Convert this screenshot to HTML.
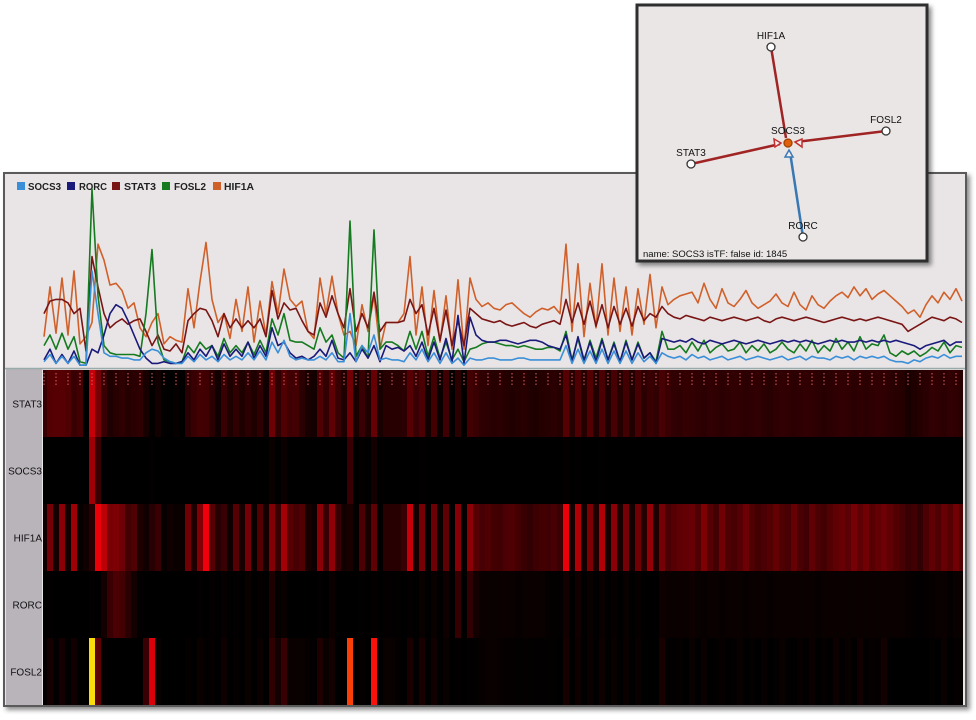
<!DOCTYPE html>
<html><head><meta charset="utf-8">
<style>
body{margin:0;width:976px;height:720px;background:#fff;overflow:hidden;font-family:"Liberation Sans",sans-serif;}
svg{display:block}
</style></head>
<body>
<svg id="root" width="976" height="720" xmlns="http://www.w3.org/2000/svg">
<defs>
<filter id="sh" x="-5%" y="-5%" width="115%" height="115%"><feDropShadow dx="3" dy="3" stdDeviation="2.5" flood-color="#000" flood-opacity="0.45"/></filter>
<clipPath id="heatclip"><rect x="43" y="370" width="920" height="335"/></clipPath>
</defs>
<rect x="4" y="173" width="962" height="533" fill="#e9e5e6" stroke="#5a5a5a" stroke-width="2" filter="url(#sh)"/>
<rect x="6" y="369" width="36" height="336" fill="#b9b4ba"/>
<line x1="5" y1="368.5" x2="965" y2="368.5" stroke="#9aa" stroke-width="1.5"/>
<g id="legend" font-size="10" font-weight="bold" fill="#222">
 <g><rect x="17" y="182" width="8" height="8" fill="#3a8fd8"/><text x="28" y="190" textLength="33" lengthAdjust="spacingAndGlyphs">SOCS3</text></g>
 <g><rect x="67" y="182" width="8" height="8" fill="#1a1a7a"/><text x="79" y="190" textLength="28" lengthAdjust="spacingAndGlyphs">RORC</text></g>
 <g><rect x="112" y="182" width="8" height="8" fill="#7a1515"/><text x="124" y="190" textLength="32" lengthAdjust="spacingAndGlyphs">STAT3</text></g>
 <g><rect x="162" y="182" width="8" height="8" fill="#157a20"/><text x="174" y="190" textLength="32" lengthAdjust="spacingAndGlyphs">FOSL2</text></g>
 <g><rect x="213" y="182" width="8" height="8" fill="#d0602a"/><text x="224" y="190" textLength="30" lengthAdjust="spacingAndGlyphs">HIF1A</text></g>
</g>
<g id="heat" clip-path="url(#heatclip)"></g>
<g id="ticks"></g>
<g id="lines"></g>
<g id="rowlabels" font-size="10" fill="#111" text-anchor="end"></g>

<g>
 <rect x="637" y="5" width="290" height="256" fill="#ebe6e6" stroke="#2e2e2e" stroke-width="3" filter="url(#sh)"/>
 <g stroke-width="2.5" fill="none">
  <line x1="771" y1="47" x2="786" y2="138" stroke="#a02424"/>
  <line x1="886" y1="131" x2="796" y2="142" stroke="#a02424"/>
  <line x1="691" y1="164" x2="780" y2="144" stroke="#a02424"/>
  <line x1="803" y1="237" x2="790" y2="152" stroke="#3a78b4"/>
 </g>
 <g fill="#f2eeee" stroke-width="1.5">
  <polygon points="781,143 774,139 775,147" stroke="#c03030"/>
  <polygon points="795,142 802,139 802,147" stroke="#c03030"/>
  <polygon points="789,150 785,157 793,157" stroke="#3a78b4"/>
 </g>
 <g fill="#fff" stroke="#333" stroke-width="1.3">
  <circle cx="771" cy="47" r="4"/>
  <circle cx="886" cy="131" r="4"/>
  <circle cx="691" cy="164" r="4"/>
  <circle cx="803" cy="237" r="4"/>
  <circle cx="788" cy="143" r="4" fill="#e0600a" stroke="#a04000"/>
 </g>
 <g font-size="10" fill="#111" text-anchor="middle">
  <text x="771" y="39">HIF1A</text>
  <text x="886" y="123">FOSL2</text>
  <text x="788" y="134">SOCS3</text>
  <text x="691" y="156">STAT3</text>
  <text x="803" y="229">RORC</text>
 </g>
 <text x="643" y="257" font-size="9.5" fill="#111">name: SOCS3 isTF: false id: 1845</text>
</g>
</svg>
<script>
const genes = ["SOCS3","RORC","STAT3","FOSL2","HIF1A"];
const heatRows = ["STAT3","SOCS3","HIF1A","RORC","FOSL2"];
const HIF1A = [17,45,19,50,18,54,13,17,25,69,60,46,47,43,33,36,22,17,25,30,13,17,15,14,44,22,48,70,38,25,30,16,38,20,45,14,37,18,48,30,55,38,34,37,20,16,50,30,51,30,18,20,12,35,20,40,10,25,25,25,30,62,18,45,12,43,14,40,10,49,10,50,38,
34,36,33,32,35,36,33,30,28,31,33,32,34,30,
69,20,58,17,47,22,58,18,50,20,45,18,44,24,
52,22,45,35,
38,40,41,42,36,47,38,33,44,36,34,38,43,36,33,35,37,41,36,34,42,35,32,40,35,33,37,40,42,39,45,40,44,38,41,43,40,37,34,30,32,28,35,40,36,42,38,44,37];
const STAT3 = [30,37,38,38,36,30,33,9,62,45,30,22,25,27,24,26,27,20,12,18,10,9,13,8,26,30,33,32,26,17,30,22,27,22,26,22,27,17,43,27,36,32,33,26,20,18,36,28,40,30,22,44,20,30,22,42,20,25,25,25,26,38,30,35,18,33,15,32,12,26,12,33,30,
27,26,25,26,24,23,24,25,23,22,24,25,26,24,
38,25,36,24,37,23,35,22,34,24,33,23,34,26,
30,28,34,30,
28,27,29,28,27,26,28,27,26,27,28,27,26,27,28,26,25,27,28,27,26,27,28,27,26,25,26,27,28,27,26,27,26,27,28,27,26,25,24,20,22,24,26,28,27,26,28,27,25];
const RORC = [4,10,2,7,2,9,1,1,10,8,18,30,35,33,26,18,10,5,2,2,3,2,2,3,8,4,10,6,12,4,13,6,10,6,14,5,12,6,22,12,14,8,5,6,4,6,10,6,15,5,4,8,3,10,5,12,3,12,10,11,9,12,6,14,4,14,4,16,3,29,2,28,18,
15,14,14,15,15,14,13,14,15,15,14,12,11,10,
18,3,17,4,14,3,15,4,13,3,14,4,13,5,
8,2,16,15,
14,15,14,16,14,13,15,14,13,14,15,14,13,14,15,14,13,14,15,14,15,14,15,14,13,14,15,14,15,14,14,15,14,15,14,15,14,15,14,13,12,10,12,13,14,15,12,14,14];
const FOSL2 = [12,18,10,19,10,17,3,2,100,40,12,8,7,7,7,7,6,30,66,14,4,3,2,3,12,8,14,10,12,6,16,8,12,8,14,7,15,8,27,18,30,15,14,14,12,10,22,14,18,8,5,82,6,12,5,77,10,14,14,12,9,20,10,20,6,17,5,14,4,10,3,10,11,
13,14,14,13,12,12,11,12,11,10,10,11,11,9,
20,4,16,3,15,5,16,4,14,3,15,4,14,5,
8,3,20,10,
10,12,8,14,9,15,8,11,13,9,10,14,8,12,9,13,8,10,14,10,8,13,9,15,8,12,9,16,10,14,9,17,10,13,12,18,8,6,9,7,9,6,8,11,9,14,8,12,11];
const SOCS3 = [3,7,2,6,2,6,1,1,54,30,8,6,6,5,5,4,4,8,10,9,5,3,2,2,6,3,7,4,6,3,7,4,6,4,8,4,9,4,14,8,15,6,4,5,4,4,6,4,8,3,3,30,3,12,8,18,4,5,4,4,3,8,4,10,3,8,2,8,2,5,1,5,4,
4,5,5,4,4,4,5,5,4,4,4,4,4,4,
12,2,10,2,9,2,10,2,9,2,9,2,8,3,
6,2,8,6,
5,6,4,7,5,6,4,5,6,4,5,6,4,5,6,5,4,5,6,4,5,6,4,6,5,5,4,6,5,6,4,6,5,6,5,6,4,3,3,2,4,3,5,6,5,7,5,6,6];

const series = {SOCS3, RORC, STAT3, FOSL2, HIF1A};
const colors = {SOCS3:"#3a8fd8", RORC:"#1a1a7a", STAT3:"#7a1515", FOSL2:"#157a20", HIF1A:"#d0602a"};
const NS = "http://www.w3.org/2000/svg";
const N = HIF1A.length;
const xScale = i => 44 + i * (918 / (N - 1));
const yScale = v => 367 - v * 1.78;
const colW = 918 / (N - 1);

function heatColor(v){
  const t = Math.min(1, Math.max(0, (v - 8) / 62));
  let r = Math.round(240 * Math.pow(t, 1.4));
  let g = 0;
  if (v > 75) { g = Math.min(220, Math.round((v - 75) * 9)); r = 250; }
  const b = Math.round(r * 0.04);
  return `rgb(${r},${g},${b})`;
}

const heat = document.getElementById('heat');
const rowTop = 370, rowH = 67;
heatRows.forEach((g, r) => {
  const vals = series[g];
  vals.forEach((v, i) => {
    const rc = document.createElementNS(NS, 'rect');
    rc.setAttribute('x', (xScale(i) - colW/2).toFixed(2));
    rc.setAttribute('y', rowTop + r*rowH);
    rc.setAttribute('width', (colW + 0.6).toFixed(2));
    rc.setAttribute('height', rowH);
    rc.setAttribute('fill', heatColor(v));
    
    
    heat.appendChild(rc);
  });
  const t = document.createElementNS(NS, 'text');
  t.setAttribute('x', 42);
  t.setAttribute('y', rowTop + r*rowH + rowH/2 + 4);
  t.textContent = g;
  
  
  document.getElementById('rowlabels').appendChild(t);
});

const ticks = document.getElementById('ticks');
for (let i = 0; i < N; i += 2) {
  const l = document.createElementNS(NS, 'line');
  l.setAttribute('x1', xScale(i)); l.setAttribute('x2', xScale(i));
  l.setAttribute('y1', 373); l.setAttribute('y2', 385);
  l.setAttribute('stroke', '#e06060'); l.setAttribute('stroke-width', 1);
  l.setAttribute('stroke-dasharray', '1.5,2');
  
  
  ticks.appendChild(l);
}

const order = ["HIF1A","STAT3","FOSL2","RORC","SOCS3"];
const lg = document.getElementById('lines');
order.forEach(g => {
  const pts = series[g].map((v, i) => xScale(i).toFixed(1) + ',' + yScale(v).toFixed(1)).join(' ');
  const p = document.createElementNS(NS, 'polyline');
  p.setAttribute('points', pts);
  p.setAttribute('fill', 'none');
  p.setAttribute('stroke', colors[g]);
  p.setAttribute('stroke-width', 1.6);
  p.setAttribute('stroke-linejoin', 'round');
  
  
  lg.appendChild(p);
});
</script>
</body></html>
